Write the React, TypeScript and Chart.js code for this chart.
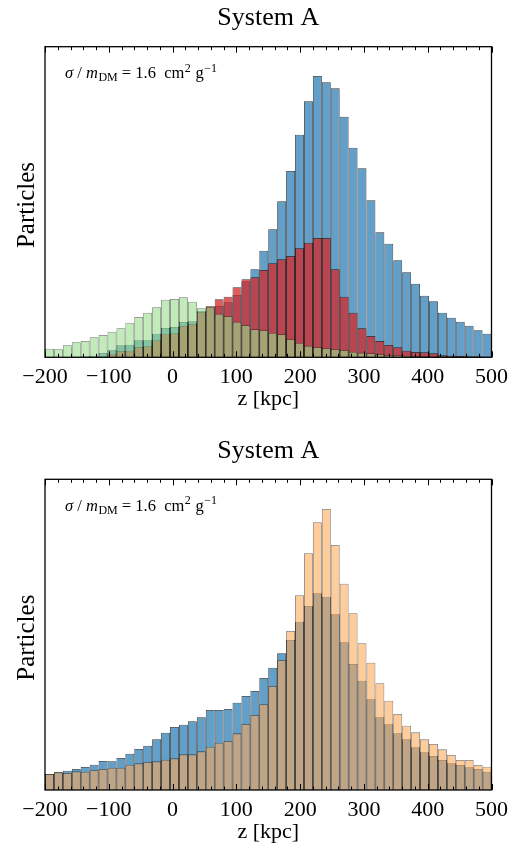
import React, { useEffect, useRef } from "react";
import { Chart, registerables } from "chart.js";

Chart.register(...registerables);

// ---- data -------------------------------------------------------------
const BIN_START = -200;
const BIN_WIDTH = 14;
const X_MIN = -200;
const X_MAX = 500;
const Y_MAX = 932;
const MINOR_STEP = 20;
const MAJOR_TICKS = [-200, -100, 0, 100, 200, 300, 400, 500];
const TICK_LABELS = ["\u2212200", "\u2212100", "0", "100", "200", "300", "400", "500"];
const TITLE = "System A";
const X_TITLE = "z [kpc]";
const Y_TITLE = "Particles";

// top panel
const topBlue = [0, 0, 1, 2, 3, 5, 13, 23, 36, 38, 51, 51, 71, 88, 91, 106, 108, 140, 150, 154, 165, 187, 228, 264, 320, 384, 468, 559, 668, 768, 844, 825, 807, 722, 629, 567, 471, 375, 341, 291, 255, 221, 185, 168, 134, 119, 107, 95, 81, 71];
const topRed = [0, 0, 0, 0, 0, 1, 3, 11, 19, 20, 31, 33, 51, 71, 72, 94, 100, 136, 153, 174, 182, 210, 234, 240, 262, 282, 294, 304, 327, 344, 358, 358, 264, 182, 134, 87, 64, 49, 37, 30, 20, 16, 15, 12, 6, 5, 4, 3, 3, 2];
const topGreen = [26, 24, 36, 45, 49, 60, 67, 77, 87, 104, 121, 134, 150, 173, 175, 180, 167, 147, 152, 131, 124, 107, 97, 84, 82, 74, 69, 55, 44, 35, 31, 28, 25, 22, 17, 14, 12, 10, 7, 6, 5, 4, 4, 3, 3, 3, 2, 2, 2, 2];

// bottom panel
const bottomBlue = [48, 53, 58, 63, 69, 76, 87, 86, 96, 109, 123, 133, 152, 172, 189, 196, 206, 218, 240, 240, 243, 262, 282, 297, 336, 367, 410, 450, 505, 552, 590, 580, 527, 443, 378, 328, 272, 218, 197, 170, 152, 128, 113, 102, 90, 80, 75, 68, 63, 55];
const bottomOrange = [48, 53, 51, 56, 55, 60, 63, 67, 67, 76, 80, 84, 86, 91, 95, 107, 107, 116, 130, 142, 147, 170, 198, 225, 257, 312, 390, 477, 584, 710, 803, 843, 735, 619, 530, 440, 382, 320, 268, 228, 193, 173, 152, 138, 122, 105, 90, 90, 75, 70];

// ---- styling ----------------------------------------------------------
const SERIF = "'Liberation Serif', 'DejaVu Serif', serif";

function toPoints(values: number[]) {
  return values.map((v, i) => ({ x: BIN_START + (i + 0.5) * BIN_WIDTH, y: v }));
}

type DS = { values: number[]; bg: string; border: string; order: number };

const decorPlugin = {
  id: "decor",
  afterDraw(chart: any) {
    const { ctx, chartArea } = chart;
    const { left, top, right, bottom } = chartArea;
    const xs = chart.scales.x;
    ctx.save();

    // frame
    ctx.strokeStyle = "#000";
    ctx.lineWidth = 1.3;
    ctx.strokeRect(left, top, right - left, bottom - top);

    // inward ticks top & bottom
    ctx.lineWidth = 1;
    for (let v = X_MIN; v <= X_MAX + 1e-6; v += MINOR_STEP) {
      const px = Math.round(xs.getPixelForValue(v)) + 0.5;
      const major = MAJOR_TICKS.includes(v);
      const len = major ? 6 : 3.5;
      ctx.beginPath();
      ctx.moveTo(px, bottom);
      ctx.lineTo(px, bottom - len);
      ctx.moveTo(px, top);
      ctx.lineTo(px, top + len);
      ctx.stroke();
    }

    ctx.fillStyle = "#000";
    // tick labels
    ctx.font = `22px ${SERIF}`;
    ctx.textAlign = "center";
    ctx.textBaseline = "alphabetic";
    MAJOR_TICKS.forEach((v, i) => {
      ctx.fillText(TICK_LABELS[i], xs.getPixelForValue(v), bottom + 25.7);
    });

    // x title
    ctx.fillText(X_TITLE, (left + right) / 2, bottom + 48);

    // title
    ctx.font = `26px ${SERIF}`;
    ctx.fillText(TITLE, (left + right) / 2, top - 21.7);

    // y title
    ctx.save();
    ctx.font = `25px ${SERIF}`;
    ctx.translate(left - 11, (top + bottom) / 2 + 3);
    ctx.rotate(-Math.PI / 2);
    ctx.fillText(Y_TITLE, 0, 0);
    ctx.restore();

    // annotation
    const fs = 16.5;
    const sub = 12;
    const parts = [
      { t: "\u03c3", f: `italic ${fs}px ${SERIF}`, dy: 0, gap: 0 },
      { t: " / ", f: `${fs}px ${SERIF}`, dy: 0, gap: 0 },
      { t: "m", f: `italic ${fs}px ${SERIF}`, dy: 0, gap: 0 },
      { t: "DM", f: `${sub}px ${SERIF}`, dy: 3, gap: 0.5 },
      { t: " = 1.6  cm", f: `${fs}px ${SERIF}`, dy: 0, gap: 0 },
      { t: "2", f: `${sub}px ${SERIF}`, dy: -6.5, gap: 0.5 },
      { t: " g", f: `${fs}px ${SERIF}`, dy: 0, gap: 0.5 },
      { t: "\u22121", f: `${sub}px ${SERIF}`, dy: -6.5, gap: 0.5 },
    ];
    ctx.textAlign = "left";
    let ax = left + 20;
    const ay = top + 31.6;
    for (const p of parts) {
      ctx.font = p.f;
      ax += p.gap;
      ctx.fillText(p.t, ax, ay + p.dy);
      ax += ctx.measureText(p.t).width;
    }

    ctx.restore();
  },
};

function HistPanel({ datasets, pad, topPx }: { datasets: DS[]; pad: { left: number; right: number; top: number; bottom: number }; topPx: number }) {
  const ref = useRef<HTMLCanvasElement | null>(null);
  useEffect(() => {
    if (!ref.current) return;
    const chart = new Chart(ref.current, {
      type: "bar",
      data: {
        datasets: datasets.map((d) => ({
          data: toPoints(d.values),
          backgroundColor: d.bg,
          borderColor: d.border,
          borderWidth: 0.8,
          borderSkipped: "bottom",
          grouped: false,
          order: d.order,
          barPercentage: 1,
          categoryPercentage: 1,
          inflateAmount: 0,
        })) as any,
      },
      options: {
        animation: false,
        responsive: false,
        devicePixelRatio: 1,
        events: [],
        layout: { padding: pad },
        plugins: { legend: { display: false }, title: { display: false }, tooltip: { enabled: false } },
        scales: {
          x: { type: "linear", min: X_MIN, max: X_MAX, offset: false, display: false },
          y: { type: "linear", min: 0, max: Y_MAX, display: false },
        },
      } as any,
      plugins: [decorPlugin],
    });
    return () => chart.destroy();
  }, []);
  return (
    <div style={{ position: "absolute", left: 0, top: topPx, width: 524, height: 427 }}>
      <canvas ref={ref} width={524} height={427} style={{ width: 524, height: 427, display: "block" }} />
    </div>
  );
}

export default function App() {
  const topSets: DS[] = [
    { values: topBlue, bg: "rgba(31,119,180,0.7)", border: "rgba(0,0,0,0.8)", order: 3 },
    { values: topRed, bg: "rgba(214,39,40,0.75)", border: "rgba(0,0,0,0.8)", order: 2 },
    { values: topGreen, bg: "rgba(152,223,138,0.6)", border: "rgba(0,0,0,0.55)", order: 1 },
  ];
  const bottomSets: DS[] = [
    { values: bottomBlue, bg: "rgba(31,119,180,0.7)", border: "rgba(0,0,0,0.8)", order: 2 },
    { values: bottomOrange, bg: "rgba(255,170,88,0.6)", border: "rgba(0,0,0,0.55)", order: 1 },
  ];
  return (
    <div style={{ position: "absolute", left: 0, top: 0, width: 524, height: 854 }}>
      <HistPanel datasets={topSets} pad={{ left: 45, right: 32.5, top: 46.7, bottom: 69.7 }} topPx={0} />
      <HistPanel datasets={bottomSets} pad={{ left: 45, right: 32.5, top: 52.3, bottom: 64 }} topPx={427} />
    </div>
  );
}
